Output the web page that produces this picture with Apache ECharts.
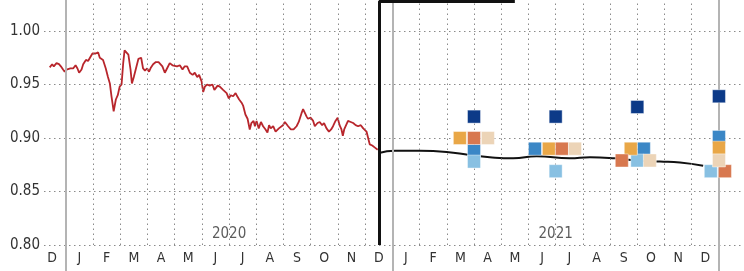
<!DOCTYPE html>
<html>
<head>
<meta charset="utf-8">
<script src="https://cdn.jsdelivr.net/npm/echarts@6/dist/echarts.min.js"></script>
<style>
  html, body { margin: 0; padding: 0; background: #ffffff; }
  #chart { width: 744px; height: 271px; }
</style>
</head>
<body>
<div id="chart"></div>
<script>
// x is months since 1 Jan 2020
const monthLabels = ['D', 'J', 'F', 'M', 'A', 'M', 'J', 'J', 'A', 'S', 'O', 'N', 'D',
  'J', 'F', 'M', 'A', 'M', 'J', 'J', 'A', 'S', 'O', 'N', 'D']
const monthLabelPos = monthLabels.map((_, i) => i - 0.5)
const yearStarts = [0, 12, 24]
const monthBounds = [1, 2, 3, 4, 5, 6, 7, 8, 9, 10, 11, 13, 14, 15, 16, 17, 18, 19, 20, 21, 22, 23]
const yearLabels = ['2020', '2021']
const yearLabelPos = [6, 18]

// daily spot rate, 2020
const spotMonths = [-0.59, -0.50, -0.44, -0.34, -0.25, -0.18, -0.10, -0.04, 0.03, 0.17, 0.27, 0.36, 0.43, 0.49,
  0.58, 0.64, 0.74, 0.82, 0.91, 0.98, 1.03, 1.10, 1.19, 1.25, 1.37, 1.47, 1.55, 1.62, 1.68, 1.76, 1.84,
  1.91, 1.98, 2.05, 2.11, 2.16, 2.23, 2.30, 2.38, 2.43, 2.50, 2.60, 2.67, 2.77, 2.84, 2.91, 2.99, 3.06,
  3.13, 3.21, 3.31, 3.41, 3.48, 3.55, 3.64, 3.72, 3.82, 3.92, 3.99, 4.09, 4.19, 4.29, 4.37, 4.46, 4.56,
  4.66, 4.74, 4.83, 4.90, 4.99, 5.05, 5.11, 5.19, 5.29, 5.39, 5.46, 5.58, 5.66, 5.78, 5.91, 5.99, 6.06,
  6.15, 6.24, 6.30, 6.37, 6.46, 6.52, 6.60, 6.68, 6.76, 6.82, 6.90, 6.95, 7.01, 7.09, 7.17, 7.25, 7.34,
  7.41, 7.47, 7.53, 7.62, 7.71, 7.78, 7.83, 7.90, 7.98, 8.05, 8.11, 8.17, 8.27, 8.37, 8.48, 8.56, 8.66,
  8.72, 8.78, 8.85, 8.90, 9.00, 9.09, 9.15, 9.25, 9.33, 9.42, 9.49, 9.58, 9.67, 9.75, 9.82, 9.91, 9.99,
  10.06, 10.13, 10.18, 10.23, 10.30, 10.37, 10.47, 10.56, 10.65, 10.74, 10.84, 10.93, 10.99, 11.05,
  11.11, 11.17, 11.26, 11.36, 11.46]
const spotValues = [0.966, 0.969, 0.967, 0.970, 0.969, 0.967, 0.964, 0.962, 0.964, 0.965, 0.965, 0.968, 0.965, 0.961,
  0.964, 0.969, 0.973, 0.972, 0.976, 0.979, 0.978, 0.979, 0.980, 0.975, 0.973, 0.965, 0.957, 0.951, 0.939, 0.925, 0.936,
  0.940, 0.948, 0.950, 0.970, 0.982, 0.982, 0.978, 0.964, 0.951, 0.957, 0.967, 0.974, 0.975, 0.965, 0.963, 0.965, 0.962,
  0.966, 0.969, 0.971, 0.971, 0.971, 0.967, 0.961, 0.965, 0.970, 0.968, 0.969, 0.967, 0.968, 0.964, 0.967, 0.967, 0.961,
  0.959, 0.961, 0.957, 0.959, 0.953, 0.943, 0.948, 0.950, 0.949, 0.950, 0.945, 0.949, 0.948, 0.945, 0.942, 0.937, 0.940,
  0.939, 0.942, 0.939, 0.936, 0.933, 0.930, 0.922, 0.918, 0.908, 0.914, 0.916, 0.911, 0.916, 0.909, 0.915, 0.911, 0.908,
  0.905, 0.912, 0.909, 0.911, 0.906, 0.905, 0.909, 0.908, 0.912, 0.915, 0.916, 0.911, 0.908, 0.908, 0.911, 0.915, 0.923,
  0.927, 0.926, 0.920, 0.918, 0.919, 0.916, 0.911, 0.914, 0.915, 0.912, 0.914, 0.909, 0.906, 0.908, 0.911, 0.916, 0.919,
  0.912, 0.908, 0.902, 0.908, 0.912, 0.916, 0.915, 0.914, 0.912, 0.911, 0.912, 0.909, 0.908, 0.906,
  0.900, 0.894, 0.893, 0.891, 0.889]

// forward curve, 2021
const fwdMonths = [11.51, 12.09, 13.01, 13.99, 14.85, 15.58, 16.44, 17.30, 18.52, 19.26, 20.18, 20.97, 21.83, 22.57, 23.42]
const fwdValues = [0.886, 0.888, 0.888, 0.887, 0.884, 0.882, 0.881, 0.883, 0.881, 0.882, 0.881, 0.879, 0.878, 0.877, 0.874]

// forecast squares [month, value]
const navyPts = [[15.0, 0.920], [18.0, 0.920], [21.0, 0.929], [24.0, 0.939]]
const bluePts = [[15.0, 0.888], [17.24, 0.890], [21.24, 0.890], [24.0, 0.901]]
const lightBluePts = [[15.0, 0.878], [18.0, 0.869], [21.0, 0.879], [23.7, 0.869]]
const orangePts = [[14.48, 0.900], [17.75, 0.890], [20.76, 0.890], [24.0, 0.891]]
const redPts = [[15.0, 0.900], [18.23, 0.890], [20.43, 0.879], [24.22, 0.869]]
const beigePts = [[15.51, 0.900], [18.71, 0.890], [21.46, 0.879], [24.0, 0.879]]

const yMin = 0.80
const yMax = 1.029
const cutMonth = 11.5
const boxEnd = 16.5

const font = '"Liberation Sans Narrow", "DejaVu Sans Condensed", sans-serif'
const gridDots = [1.5, 3.5]

const squareSeries = (name, color, pts) => ({
  name,
  type: 'scatter',
  symbol: 'rect',
  symbolSize: 13,
  z: 5,
  itemStyle: { color, borderColor: 'rgba(255,255,255,0.7)', borderWidth: 0.6, opacity: 1 },
  data: pts,
})

const chart = echarts.init(document.getElementById('chart'))

chart.setOption({
  animation: false,
  grid: { left: 44, right: 0, top: 0, bottom: 26, containLabel: false },
  xAxis: {
    type: 'value',
    min: -0.8,
    max: 24.92,
    axisLine: { show: false },
    splitLine: { show: false },
    axisTick: {
      show: true,
      customValues: yearStarts,
      length: 26,
      inside: false,
      lineStyle: { color: '#b4b4b4', width: 2 },
    },
    axisLabel: {
      customValues: monthLabelPos,
      formatter: (v) => monthLabels[monthLabelPos.indexOf(v)] ?? '',
      color: '#333333',
      fontFamily: font,
      fontSize: 14,
      margin: 6,
    },
  },
  yAxis: {
    type: 'value',
    min: yMin,
    max: yMax,
    interval: 0.05,
    axisLine: { show: false },
    axisTick: { show: false },
    axisLabel: {
      formatter: (v) => v.toFixed(2),
      color: '#333333',
      fontFamily: font,
      fontSize: 15,
      margin: 4,
      showMaxLabel: false,
    },
    splitLine: {
      show: true,
      showMaxLine: false,
      lineStyle: { color: '#8a8a8a', type: gridDots, width: 1 },
    },
  },
  series: [
    {
      name: 'grid',
      type: 'line',
      data: [],
      silent: true,
      markLine: {
        silent: true,
        symbol: 'none',
        label: { show: false },
        data: [
          ...monthBounds.map((m) => ({
            xAxis: m,
            lineStyle: { color: '#8a8a8a', type: gridDots, width: 1 },
          })),
          ...yearStarts.map((m) => ({
            xAxis: m,
            lineStyle: { color: '#b4b4b4', type: 'solid', width: 2 },
          })),
        ],
      },
    },
    {
      name: 'spot',
      type: 'line',
      showSymbol: false,
      z: 3,
      lineStyle: { color: '#b8262c', width: 1.8 },
      data: spotMonths.map((m, i) => [m, spotValues[i]]),
    },
    {
      name: 'forward',
      type: 'line',
      smooth: true,
      showSymbol: false,
      z: 3,
      lineStyle: { color: '#111111', width: 2 },
      data: fwdMonths.map((m, i) => [m, fwdValues[i]]),
      markLine: {
        silent: true,
        symbol: 'none',
        label: { show: false },
        lineStyle: { color: '#111111', type: 'solid', width: 3 },
        data: [
          [{ coord: [cutMonth, yMin] }, { coord: [cutMonth, yMax - 0.001] }],
          [{ coord: [cutMonth, yMax - 0.001] }, { coord: [boxEnd, yMax - 0.001] }],
        ],
      },
    },
    squareSeries('navy', '#0c3a88', navyPts),
    squareSeries('blue', '#3b87c6', bluePts),
    squareSeries('lightBlue', '#88c0e2', lightBluePts),
    squareSeries('orange', '#e9a747', orangePts),
    squareSeries('red', '#d8784f', redPts),
    squareSeries('beige', '#ecd4b7', beigePts),
    {
      name: 'years',
      type: 'scatter',
      symbolSize: 0,
      silent: true,
      label: {
        show: true,
        position: 'inside',
        formatter: (p) => yearLabels[p.dataIndex],
        color: '#333333',
        fontFamily: font,
        fontSize: 15,
      },
      data: yearLabelPos.map((m) => [m, 0.81]),
    },
  ],
})
</script>
</body>
</html>
